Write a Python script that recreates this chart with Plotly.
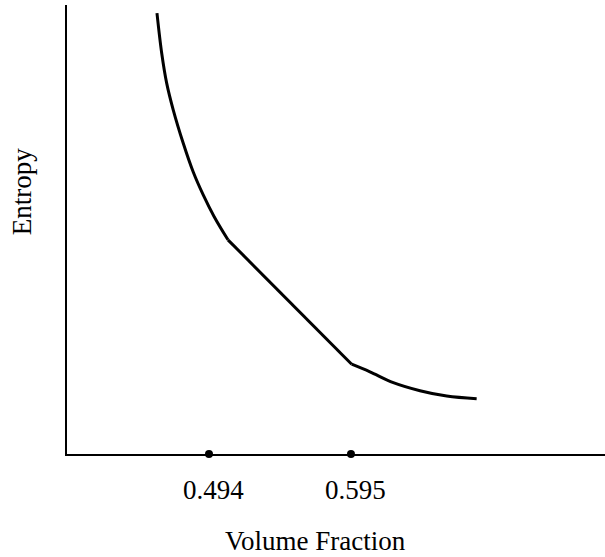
import plotly.graph_objects as go

# Data (arbitrary entropy units), split at the two kinks
# Segment 1: fluid branch (curved)
vf_fluid = [0.4570, 0.4604, 0.4639, 0.4686, 0.4757, 0.4828, 0.4899, 0.4976, 0.5075]
s_fluid = [98.2, 89.2, 82.6, 76.6, 69.2, 62.8, 57.7, 52.9, 47.7]
# Segment 2: coexistence (straight)
vf_coex = [0.5075, 0.5955]
s_coex = [47.7, 20.0]
# Segment 3: solid branch (curved)
vf_solid = [0.5955, 0.6085, 0.6251, 0.6441, 0.6631, 0.6844]
s_solid = [20.0, 18.3, 15.9, 14.1, 12.9, 12.3]

tick_vals = [0.494, 0.595]
tick_text = ["0.494", "0.595"]

FONT = "Liberation Serif"
FS = 27

fig = go.Figure()
for xs, ys, shape in [(vf_fluid, s_fluid, "spline"), (vf_coex, s_coex, "linear"),
                      (vf_solid, s_solid, "spline")]:
    fig.add_trace(go.Scatter(x=xs, y=ys, mode="lines", line_shape=shape,
                             line=dict(color="black", width=3), hoverinfo="skip"))
fig.add_trace(go.Scatter(x=tick_vals, y=[0] * len(tick_vals), mode="markers",
                         marker=dict(color="black", size=8), cliponaxis=False,
                         hoverinfo="skip"))

annotations = []
for v, t in zip(tick_vals, tick_text):
    annotations.append(dict(x=v, y=0, xref="x", yref="paper", text=t, showarrow=False,
                            yanchor="middle", yshift=-36, xshift=5,
                            font=dict(family=FONT, size=FS, color="black")))
annotations.append(dict(x=0.461, y=0, xref="paper", yref="paper", text="Volume Fraction",
                        showarrow=False, yanchor="middle", yshift=-87,
                        font=dict(family=FONT, size=FS, color="black")))
annotations.append(dict(x=0, y=0.583, xref="paper", yref="paper", text="Entropy",
                        showarrow=False, xanchor="center", xshift=-45, textangle=-90,
                        font=dict(family=FONT, size=FS, color="black")))

fig.update_layout(
    width=605, height=557,
    margin=dict(l=67, r=0, t=5, b=103),
    paper_bgcolor="white", plot_bgcolor="white",
    showlegend=False,
    annotations=annotations,
    xaxis=dict(range=[0.393, 0.7757], showgrid=False, zeroline=False,
               showticklabels=False, ticks="", showline=True,
               linecolor="black", linewidth=2),
    yaxis=dict(range=[0, 100], showgrid=False, zeroline=False,
               showticklabels=False, ticks="", showline=True,
               linecolor="black", linewidth=2),
)

fig.write_html("out.html", config={"displayModeBar": False},
               post_script="document.body.style.margin='0';")
